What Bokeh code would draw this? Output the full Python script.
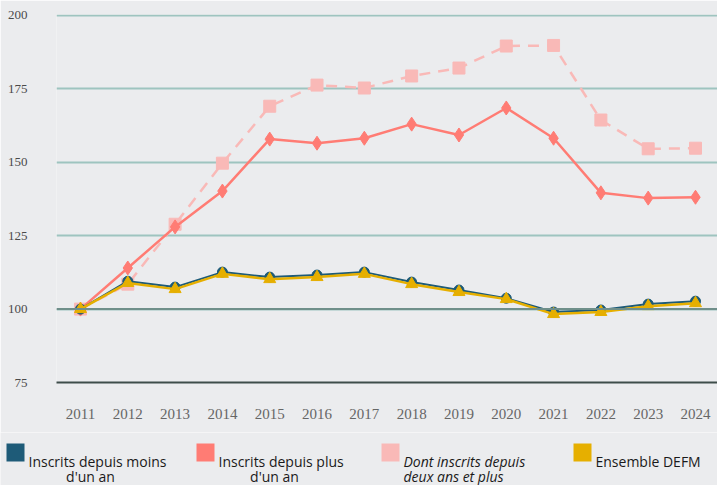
from bokeh.plotting import figure
from bokeh.layouts import column
from bokeh.models import FixedTicker, Span, Range1d
from bokeh.core.properties import value
from bokeh.embed import file_html
from bokeh.resources import INLINE

# ---- data ----
years = [2011, 2012, 2013, 2014, 2015, 2016, 2017, 2018, 2019, 2020, 2021, 2022, 2023, 2024]
moins_un_an = [100, 109.5, 107.5, 112.6, 110.9, 111.6, 112.6, 109.2, 106.5, 103.7, 99.0, 99.7, 101.7, 102.7]
plus_un_an = [100, 114.0, 128.0, 140.2, 157.9, 156.5, 158.2, 163.0, 159.3, 168.5, 158.2, 139.6, 137.8, 138.1]
deux_ans_plus = [100, 108.5, 128.9, 149.7, 169.1, 176.3, 175.3, 179.4, 182.1, 189.6, 189.8, 164.4, 154.6, 154.8]
ensemble = [100, 108.9, 106.8, 112.0, 110.2, 110.9, 112.0, 108.5, 105.8, 103.4, 98.3, 99.0, 101.0, 102.0]
y_ticks = [75, 100, 125, 150, 175, 200]
base_index = 100

series_labels = [
    ["Inscrits depuis moins", "d'un an"],
    ["Inscrits depuis plus", "d'un an"],
    ["Dont inscrits depuis", "deux ans et plus"],
    ["Ensemble DEFM"],
]

BG = "#EBECEE"
C_BLUE = "#1E5B78"
C_RED = "#FF7C74"
C_PINK = "#F9B9B7"
C_YELLOW = "#E6AF00"

W = 717
H_MAIN = 432
H_LEG = 53

p = figure(width=W, height=H_MAIN, output_backend="svg", toolbar_location=None,
           x_range=Range1d(2010.493, 2024.465), y_range=Range1d(75, 200.34),
           background_fill_color=BG, border_fill_color=BG,
           min_border_left=56, min_border_right=0, min_border_top=14,
           min_border_bottom=H_MAIN - 382)
p.outline_line_color = None
p.frame_align = False

# grid
p.xgrid.grid_line_color = None
p.ygrid.grid_line_color = "#9EC4BF"
p.ygrid.grid_line_width = 2
p.ygrid.ticker = FixedTicker(ticks=y_ticks)
p.add_layout(Span(location=base_index, dimension="width", line_color="#6F8F8A", line_width=2))

# axes
p.xaxis.ticker = FixedTicker(ticks=years)
p.yaxis.ticker = FixedTicker(ticks=y_ticks)
p.xaxis.axis_line_color = "#3E4D4A"
p.xaxis.axis_line_width = 2
p.yaxis.axis_line_color = None
for ax in (p.xaxis, p.yaxis):
    ax.major_tick_line_color = None
    ax.minor_tick_line_color = None
    ax.major_label_text_font = "Liberation Serif"
p.xaxis.major_label_text_color = "#666666"
p.yaxis.major_label_text_color = "#4A4A4A"
p.xaxis.major_label_text_font_size = "15px"
p.yaxis.major_label_text_font_size = "13px"
p.xaxis.major_label_standoff = 20
p.yaxis.major_label_standoff = 23

# series
p.line(years, deux_ans_plus, line_color=C_PINK, line_width=2.5, line_dash="11 8")
p.scatter(years, deux_ans_plus, marker="square", size=12, color=C_PINK)

p.line(years, plus_un_an, line_color=C_RED, line_width=2.5)
p.scatter(years, plus_un_an, marker="diamond", size=14, color=C_RED)

p.line(years, moins_un_an, line_color=C_BLUE, line_width=2)
p.scatter(years, moins_un_an, marker="circle", size=10, color=C_BLUE)

p.line(years, ensemble, line_color=C_YELLOW, line_width=2.5)
p.scatter(years, ensemble, marker="triangle", size=12, color=C_YELLOW)

# ---- legend strip (pixel coordinates, y downward) ----
lg = figure(width=W, height=H_LEG, output_backend="svg", toolbar_location=None,
            x_range=Range1d(0, W), y_range=Range1d(H_LEG, 0),
            x_axis_type=None, y_axis_type=None,
            background_fill_color=BG, border_fill_color=BG,
            min_border_left=0, min_border_right=0, min_border_top=0, min_border_bottom=0)
lg.outline_line_color = None
lg.grid.grid_line_color = None
lg.frame_align = False

legend_colors = [C_BLUE, C_RED, C_PINK, C_YELLOW]
sq_left = [6, 196, 381, 573]
second_line_center = [90, 274, None, None]
SQ_TOP, LINE1, LINE2 = 11, 29, 44
for i, (col, lines) in enumerate(zip(legend_colors, series_labels)):
    x0 = sq_left[i]
    lg.quad(left=[x0], right=[x0 + 18], top=[SQ_TOP], bottom=[SQ_TOP + 18], fill_color=col, line_color=None)
    style = "italic" if i == 2 else "normal"
    lg.text(x=[x0 + 22], y=[LINE1], text=[lines[0]], text_font=value("Open Sans"),
            text_font_size="14px", text_font_style=style, text_color="#1A1A1A",
            text_baseline="alphabetic", text_align="left")
    if len(lines) > 1:
        if second_line_center[i] is not None:
            lg.text(x=[second_line_center[i]], y=[LINE2], text=[lines[1]], text_font=value("Open Sans"),
                    text_font_size="14px", text_font_style=style, text_color="#1A1A1A",
                    text_baseline="alphabetic", text_align="center")
        else:
            lg.text(x=[x0 + 22], y=[LINE2], text=[lines[1]], text_font=value("Open Sans"),
                    text_font_size="14px", text_font_style=style, text_color="#1A1A1A",
                    text_baseline="alphabetic", text_align="left")

layout = column(p, lg, spacing=0)
open("out.html", "w").write(file_html(layout, INLINE))
